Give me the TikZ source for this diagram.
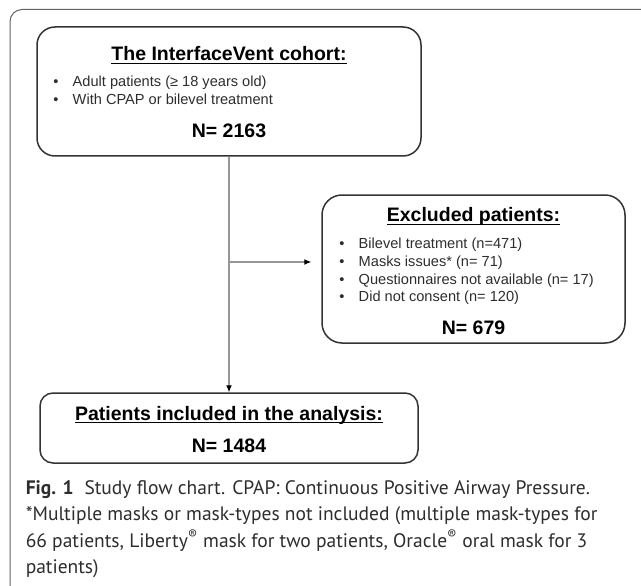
\documentclass[tikz,border=0pt]{standalone}
\usepackage{fontspec}
\setmainfont{Liberation Sans}
\newfontfamily\capfont{PT Sans}
\usetikzlibrary{arrows.meta}
\definecolor{boxgray}{RGB}{51,51,51}
\definecolor{linegray}{RGB}{150,150,150}
\definecolor{framegray}{RGB}{100,100,100}
\definecolor{textgray}{RGB}{45,45,45}
\newcommand{\undl}[1]{\setbox0\hbox{#1}\rlap{\rule[-3pt]{\wd0}{1.3pt}}\box0}
\newcommand{\bitem}[1]{\makebox[19.5pt][l]{\textbullet}#1}

\begin{document}
\begin{tikzpicture}[x=1pt, y=-1pt, line width=1.5pt] %[>=stealth]
            \tikzstyle{every node}=[inner sep=0pt]
            \tikzstyle{flowbox}=[draw=boxgray]
            \tikzstyle{head}=[font=\fontsize{19.5}{22}\selectfont\bfseries, anchor=base]
            \tikzstyle{item}=[font=\fontsize{14.6}{17}\selectfont, text=textgray, anchor=base west]
            \tikzstyle{caption}=[font=\capfont\fontsize{19.5}{26}\selectfont, text=textgray, anchor=base west]
            \useasboundingbox (0,0) rectangle (641,586);
            \draw[framegray, line width=1pt, rounded corners=12pt] (10,586) -- (10,9.5) -- (641,9.5);

            \node[flowbox, rounded corners=18pt, minimum width=384pt, minimum height=129pt] (cohort) at (229,91.5) {};
            \node[flowbox, rounded corners=20pt, minimum width=303pt, minimum height=148pt] (excl) at (473.5,269) {};
            \node[flowbox, rounded corners=13pt, minimum width=378pt, minimum height=70pt] (incl) at (229,428) {};

            \node[head] (cohorttitle) at (229,61) {\undl{The InterfaceVent cohort:}};
            \node[item] (c1) at (52.5,87) {\bitem{Adult patients (≥ 18 years old)}};
            \node[item] (c2) at (52.5,105) {\bitem{With CPAP or bilevel treatment}};
            \node[head] (cohortn) at (229,138) {N= 2163};

            \node[head] (excltitle) at (473.5,222) {\undl{Excluded patients:}};
            \node[item] (e1) at (338.5,248) {\bitem{Bilevel treatment (n=471)}};
            \node[item] (e2) at (338.5,266) {\bitem{Masks issues* (n= 71)}};
            \node[item] (e3) at (338.5,284) {\bitem{Questionnaires not available (n= 17)}};
            \node[item] (e4) at (338.5,301.5) {\bitem{Did not consent (n= 120)}};
            \node[head] (excln) at (473.5,334) {N= 679};

            \node[head] (incltitle) at (229,420) {\undl{Patients included in the analysis:}};
            \node[head] (incln) at (229,452) {N= 1484};

            \coordinate (split) at (229,262);
            \draw[linegray, line width=1.2pt, -{Latex[length=7pt,width=6pt,color=black]}] (cohort.south) -- (incl.north);
            \draw[linegray, line width=1.2pt, shorten >=10pt, -{Latex[length=7pt,width=6pt,color=black]}] (split) -- (split -| excl.west);

            \node[caption] (cap1) at (25,494) {{\bfseries Fig. 1}\hspace{0.55em}Study flow chart. CPAP: Continuous Positive Airway Pressure.};
            \node[caption] (cap2) at (25,520.5) {*Multiple masks or mask-types not included (multiple mask-types for};
            \node[caption] (cap3) at (25,547) {66 patients, Liberty\textsuperscript{®} mask for two patients, Oracle\textsuperscript{®} oral mask for 3};
            \node[caption] (cap4) at (25,573.5) {patients)};
          \end{tikzpicture}
\end{document}
